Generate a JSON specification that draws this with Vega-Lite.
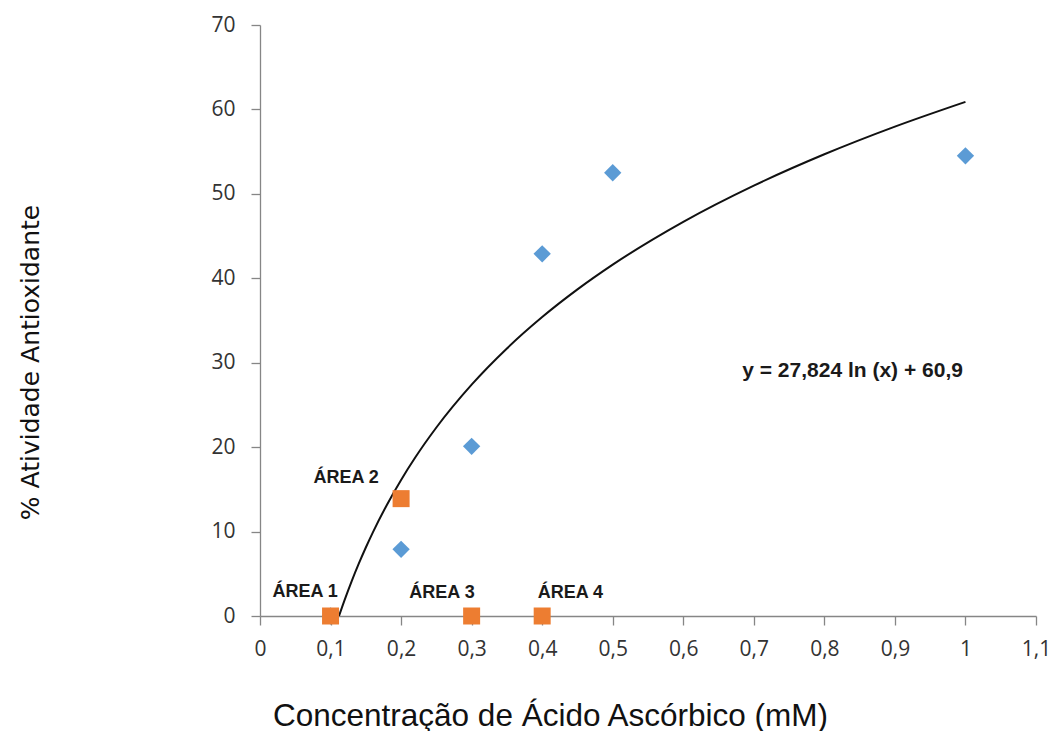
{
  "$schema": "https://vega.github.io/schema/vega-lite/v6.json",
  "width": 776,
  "height": 591,
  "autosize": "none",
  "padding": {"left": 260, "top": 25, "right": 20, "bottom": 115},
  "background": "white",
  "config": {
    "view": {"stroke": null},
    "axis": {
      "grid": false,
      "domainColor": "#868686",
      "tickColor": "#868686",
      "domainWidth": 1.3,
      "tickWidth": 1.3,
      "labelColor": "#333333",
      "labelFont": "Open Sans",
      "labelFontSize": 21,
      "titleFontWeight": "normal",
      "titleColor": "#111111"
    }
  },
  "datasets": {
    "amostras": [
      {"conc": 0.1, "atividade": 0},
      {"conc": 0.2, "atividade": 7.9},
      {"conc": 0.3, "atividade": 20.1},
      {"conc": 0.4, "atividade": 42.9},
      {"conc": 0.5, "atividade": 52.5},
      {"conc": 1.0, "atividade": 54.5}
    ],
    "areas": [
      {"conc": 0.1, "atividade": 0, "area": "ÁREA 1"},
      {"conc": 0.2, "atividade": 13.9, "area": "ÁREA 2"},
      {"conc": 0.3, "atividade": 0, "area": "ÁREA 3"},
      {"conc": 0.4, "atividade": 0, "area": "ÁREA 4"}
    ],
    "rotulos": [
      {"conc": 0.064, "atividade": 2.8, "texto": "ÁREA 1"},
      {"conc": 0.122, "atividade": 16.4, "texto": "ÁREA 2"},
      {"conc": 0.258, "atividade": 2.7, "texto": "ÁREA 3"},
      {"conc": 0.44, "atividade": 2.7, "texto": "ÁREA 4"}
    ],
    "equacao": [
      {"conc": 0.84, "atividade": 29.0, "texto": "y = 27,824 ln (x) + 60,9"}
    ],
    "tendencia": [
      {"conc": 0.112, "atividade": 0.0},
      {"conc": 0.12, "atividade": 1.905},
      {"conc": 0.13, "atividade": 4.133},
      {"conc": 0.14, "atividade": 6.195},
      {"conc": 0.15, "atividade": 8.114},
      {"conc": 0.16, "atividade": 9.91},
      {"conc": 0.18, "atividade": 13.188},
      {"conc": 0.2, "atividade": 16.119},
      {"conc": 0.22, "atividade": 18.771},
      {"conc": 0.25, "atividade": 22.328},
      {"conc": 0.3, "atividade": 27.401},
      {"conc": 0.35, "atividade": 31.69},
      {"conc": 0.4, "atividade": 35.405},
      {"conc": 0.45, "atividade": 38.682},
      {"conc": 0.5, "atividade": 41.614},
      {"conc": 0.6, "atividade": 46.687},
      {"conc": 0.7, "atividade": 50.976},
      {"conc": 0.8, "atividade": 54.691},
      {"conc": 0.9, "atividade": 57.968},
      {"conc": 1.0, "atividade": 60.9}
    ]
  },
  "encoding": {
    "x": {
      "field": "conc",
      "type": "quantitative",
      "scale": {"domain": [0, 1.1], "nice": false, "zero": true},
      "axis": {
        "title": "Concentração de Ácido Ascórbico (mM)",
        "titleFont": "Liberation Sans",
        "titleFontSize": 31.5,
        "titleX": 290,
        "titleY": 109,
        "titleBaseline": "alphabetic",
        "values": [0, 0.1, 0.2, 0.3, 0.4, 0.5, 0.6, 0.7, 0.8, 0.9, 1, 1.1],
        "labelExpr": "datum.value == 0 ? '0' : (abs(datum.value - 1) < 0.001 ? '1' : replace(format(datum.value, '.1f'), '.', ','))",
        "tickSize": 9,
        "labelPadding": 13,
        "labelFlush": false
      }
    },
    "y": {
      "field": "atividade",
      "type": "quantitative",
      "scale": {"domain": [0, 70], "nice": false},
      "axis": {
        "title": "%  Atividade  Antioxidante",
        "titleFont": "DejaVu Sans",
        "titleFontSize": 25,
        "titleX": -230,
        "titleY": 337,
        "titleAngle": -90,
        "titleAlign": "center",
        "titleBaseline": "middle",
        "values": [0, 10, 20, 30, 40, 50, 60, 70],
        "tickSize": 9,
        "labelPadding": 16
      }
    }
  },
  "layer": [
    {
      "data": {"name": "tendencia"},
      "mark": {"type": "line", "color": "#111111", "strokeWidth": 2, "interpolate": "monotone"}
    },
    {
      "data": {"name": "amostras"},
      "mark": {"type": "point", "shape": "diamond", "filled": true, "size": 300, "color": "#5B9BD5", "opacity": 1}
    },
    {
      "data": {"name": "areas"},
      "mark": {"type": "point", "shape": "square", "filled": true, "size": 289, "color": "#ED7D31", "opacity": 1}
    },
    {
      "data": {"name": "rotulos"},
      "mark": {"type": "text", "font": "Liberation Sans", "fontWeight": "bold", "fontSize": 18, "color": "#1a1a1a", "align": "center", "baseline": "middle"},
      "encoding": {"text": {"field": "texto", "type": "nominal"}}
    },
    {
      "data": {"name": "equacao"},
      "mark": {"type": "text", "font": "Liberation Sans", "fontWeight": "bold", "fontSize": 21, "color": "#1a1a1a", "align": "center", "baseline": "middle"},
      "encoding": {"text": {"field": "texto", "type": "nominal"}}
    }
  ]
}
